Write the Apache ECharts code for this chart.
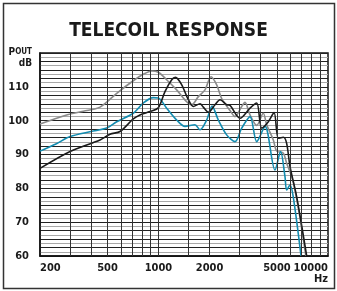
<!DOCTYPE html>
<html>
<head>
<meta charset="utf-8">
<script src="https://cdn.jsdelivr.net/npm/echarts@6/dist/echarts.min.js"></script>
<style>
  html, body { margin: 0; padding: 0; background: #fff; }
  #chart-telecoil { width: 337px; height: 291px; }
</style>
</head>
<body>
<div id="chart-telecoil"></div>
<script>
// frequency (Hz) / output (dB) pairs
const grayCurve = [
  [200, 99], [287, 101.7], [360, 102.8], [452, 104], [567, 108.1], [710, 111.8],
  [813, 113.7], [912, 114.7], [998, 114.3], [1117, 112.1], [1280, 109.1],
  [1466, 105.6], [1571, 104.7], [1718, 107.1], [1881, 109.1], [2041, 113.0],
  [2205, 110.6], [2360, 106.5], [2642, 103], [2826, 101.2], [3097, 104.2],
  [3238, 105.4], [3467, 101.7], [3796, 98.6], [4152, 102.2], [4348, 98.8],
  [4757, 94.3], [4980, 91], [5453, 90.4], [5703, 87.4], [6105, 83.5],
  [6385, 79.5], [6800, 72], [7300, 62], [7400, 60]
];
const blackCurve = [
  [200, 85.9], [301, 90.9], [452, 94.3], [518, 96], [593, 96.8], [710, 100.5],
  [778, 101.7], [891, 102.7], [998, 103.8], [1092, 108.6], [1197, 112.1],
  [1260, 112.8], [1371, 110.6], [1500, 106.2], [1605, 104.2], [1758, 105],
  [1838, 104], [1968, 102.5], [2155, 104.7], [2306, 106.2], [2524, 104.7],
  [2642, 104.5], [3027, 100.7], [3467, 103.7], [3796, 105.2], [4064, 97.8],
  [4447, 99.7], [4805, 102.4], [5093, 94.8], [5453, 95.1], [5703, 93.3],
  [5970, 86.4], [6535, 77.5], [7485, 60]
];
const tealCurve = [
  [200, 91], [250, 93.2], [301, 95.3], [400, 96.8], [495, 97.8], [567, 99.7],
  [710, 102.2], [813, 105.2], [932, 106.8], [998, 106.7], [1117, 103.7],
  [1280, 100.2], [1433, 98.3], [1641, 98.8], [1758, 97.3], [1924, 100.2],
  [2070, 104.3], [2254, 100.2], [2524, 95.8], [2826, 93.8], [3097, 97.8],
  [3467, 101.2], [3796, 93.8], [4250, 98.3], [4867, 85.4], [5250, 90.9],
  [5573, 83.5], [5703, 79.5], [5970, 81], [6238, 77.5], [6935, 60]
];
const freqGrid = [300, 400, 500, 600, 700, 800, 900, 1000, 1500, 2000,
  3000, 4000, 5000, 6000, 7000, 8000, 9000];
const freqLabels = [200, 500, 1000, 2000, 5000, 10000];
const dbLabels = [60, 70, 80, 90, 100, 110];

const FONT = "'Liberation Sans Narrow', 'DejaVu Sans Condensed', sans-serif";

const chart = echarts.init(document.getElementById('chart-telecoil'), null, { renderer: 'canvas' });

chart.setOption({
  animation: false,
  title: {
    text: 'TELECOIL RESPONSE',
    left: 'center',
    top: 17,
    textStyle: { fontFamily: FONT, fontSize: 19, fontWeight: 'bold', color: '#1a1a1a' }
  },
  grid: {
    left: 40, right: 9, top: 53, bottom: 35,
    show: true, borderColor: '#111', borderWidth: 1.5
  },
  xAxis: {
    type: 'log', logBase: 10, min: 200, max: 10000,
    axisLine: { show: true, lineStyle: { color: '#111', width: 1.5 } },
    axisTick: { show: false },
    axisLabel: {
      show: true, customValues: freqLabels, margin: 7,
      alignMinLabel: 'left', alignMaxLabel: 'right',
      showMinLabel: true, showMaxLabel: true, hideOverlap: false,
      fontFamily: FONT, fontSize: 11, fontWeight: 'bold', color: '#1a1a1a',
      formatter: function (v) { return String(Math.round(v)); }
    },
    splitLine: { show: false }
  },
  yAxis: {
    type: 'value', min: 60, max: 120, interval: 1.25,
    axisLine: { show: true, lineStyle: { color: '#111', width: 1.5 } },
    axisTick: { show: false },
    axisLabel: {
      margin: 11,
      fontFamily: FONT, fontSize: 11, fontWeight: 'bold', color: '#1a1a1a',
      formatter: function (v) {
        const r = Math.round(v);
        return (Math.abs(v - r) < 1e-6 && dbLabels.indexOf(r) >= 0) ? String(r) : '';
      }
    },
    splitLine: { show: true, lineStyle: { color: ['#222', '#a8a8a8'], width: 1 } }
  },
  graphic: [
    {
      type: 'rect', silent: true,
      shape: { x: 3.5, y: 3.5, width: 331, height: 285 },
      style: { fill: 'none', stroke: '#333', lineWidth: 1.5 }
    },
    {
      type: 'text', right: 305, top: 47,
      style: {
        text: '{a|P}{b|OUT}', align: 'right',
        rich: {
          a: { fontFamily: FONT, fontSize: 10, fontWeight: 'bold', fill: '#1a1a1a' },
          b: { fontFamily: FONT, fontSize: 8, fontWeight: 'bold', fill: '#1a1a1a' }
        }
      }
    },
    {
      type: 'text', right: 305, top: 58,
      style: { text: 'dB', fontFamily: FONT, fontSize: 10, fontWeight: 'bold', fill: '#1a1a1a' }
    },
    {
      type: 'text', right: 9, top: 274,
      style: { text: 'Hz', fontFamily: FONT, fontSize: 11, fontWeight: 'bold', fill: '#1a1a1a' }
    }
  ],
  series: [
    {
      name: 'gray', type: 'line', smooth: 0.3, symbol: 'none', data: grayCurve,
      lineStyle: { color: '#8a8a8a', width: 1.6 },
      markLine: {
        silent: true, symbol: 'none', animation: false,
        lineStyle: { color: '#333', width: 1, type: 'solid' },
        label: { show: false },
        data: freqGrid.map(function (f) { return { xAxis: f }; })
      }
    },
    {
      name: 'teal', type: 'line', smooth: 0.3, symbol: 'none', data: tealCurve,
      lineStyle: { color: '#138cb0', width: 1.6 }
    },
    {
      name: 'black', type: 'line', smooth: 0.3, symbol: 'none', data: blackCurve,
      lineStyle: { color: '#1a1a1a', width: 1.6 }
    }
  ]
});
</script>
</body>
</html>
